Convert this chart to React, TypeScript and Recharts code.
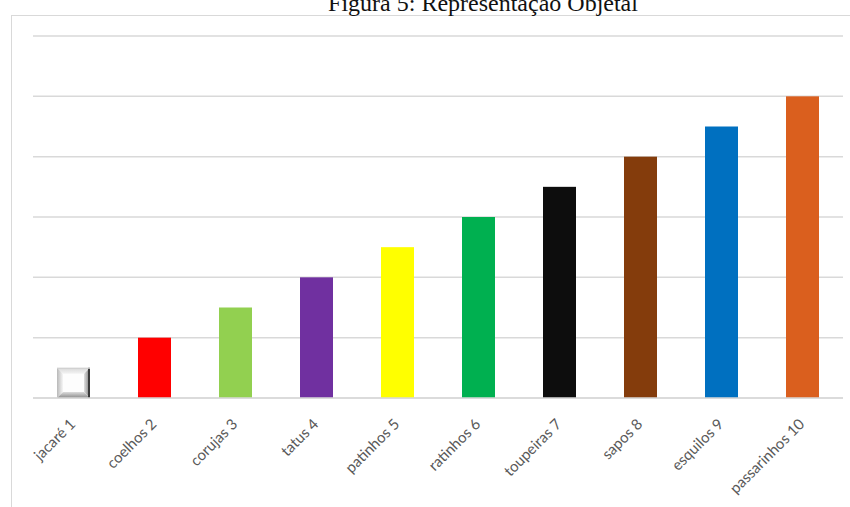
import React from "react";
import { BarChart, Bar, XAxis, YAxis, CartesianGrid, Cell } from "recharts";

const categories = ["jacaré 1", "coelhos 2", "corujas 3", "tatus 4", "patinhos 5", "ratinhos 6", "toupeiras 7", "sapos 8", "esquilos 9", "passarinhos 10"];
const values = [1, 2, 3, 4, 5, 6, 7, 8, 9, 10];
const colors = ["#f4f4f4", "#FF0000", "#92D050", "#7030A0", "#FFFF00", "#00B050", "#0D0D0D", "#843C0C", "#0070C0", "#DA5F1E"];
const yTicks = [0, 2, 4, 6, 8, 10, 12];
const title = "Figura 5: Representação Objetal";

const data = categories.map((name, i) => ({ name, value: values[i] }));

const BarShape = (props: any) => {
  const { x, y, width, height, index, fill } = props;
  if (index === 0) {
    const b = 6;
    const x2 = x + width;
    const y2 = y + height;
    return (
      <g>
        <rect x={x} y={y} width={width} height={height} fill="#fdfdfd" />
        <polygon points={`${x},${y} ${x2},${y} ${x2 - b},${y + b} ${x + b},${y + b}`} fill="url(#bevTop)" />
        <polygon points={`${x},${y} ${x + b},${y + b} ${x + b},${y2 - b} ${x},${y2}`} fill="url(#bevLeft)" />
        <polygon points={`${x2},${y} ${x2},${y2} ${x2 - b},${y2 - b} ${x2 - b},${y + b}`} fill="url(#bevRight)" />
        <polygon points={`${x},${y2} ${x2},${y2} ${x2 - b},${y2 - b} ${x + b},${y2 - b}`} fill="url(#bevBottom)" />
        <rect x={x2 - 2} y={y} width={2} height={height} fill="#3a3a3a" />
        <rect x={x} y={y} width={width} height={1} fill="#cfcfcf" />
      </g>
    );
  }
  return <rect x={x} y={y} width={width} height={height} fill={fill} />;
};

const Tick = (props: any) => {
  const { x, y, payload } = props;
  return (
    <g transform={`translate(${x + 3},${y + 19})`}>
      <text x={0} y={0} transform="rotate(-45)" textAnchor="end" fill="#595959" fontSize={15} fontFamily="Lato, 'Open Sans', sans-serif">
        {payload.value}
      </text>
    </g>
  );
};

export default function App() {
  return (
    <div style={{ position: "absolute", left: 0, top: 0, width: 850, height: 507, overflow: "hidden", background: "#fff" }}>
      <div style={{ position: "absolute", left: 11, top: 15, width: 900, height: 600, border: "1px solid #d9d9d9" }} />
      <div style={{ position: "absolute", left: 0, top: -10, width: 966, textAlign: "center", fontFamily: "'Liberation Serif', serif", fontSize: 24, color: "#111" }}>
        {title}
      </div>
      <div style={{ position: "absolute", left: 0, top: 0 }}>
        <BarChart width={850} height={507} data={data} margin={{ top: 36, right: 7, left: 33, bottom: 0 }} barSize={33}>
          <defs>
            <linearGradient id="bevTop" x1="0" y1="0" x2="0" y2="1">
              <stop offset="0" stopColor="#d8d8d8" />
              <stop offset="1" stopColor="#f4f4f4" />
            </linearGradient>
            <linearGradient id="bevLeft" x1="0" y1="0" x2="1" y2="0">
              <stop offset="0" stopColor="#b8b8b8" />
              <stop offset="1" stopColor="#f6f6f6" />
            </linearGradient>
            <linearGradient id="bevRight" x1="0" y1="0" x2="1" y2="0">
              <stop offset="0" stopColor="#e0e0e0" />
              <stop offset="1" stopColor="#7a7a7a" />
            </linearGradient>
            <linearGradient id="bevBottom" x1="0" y1="0" x2="0" y2="1">
              <stop offset="0" stopColor="#dcdcdc" />
              <stop offset="1" stopColor="#8a8a8a" />
            </linearGradient>
          </defs>
          <CartesianGrid vertical={false} stroke="#d9d9d9" strokeWidth={1.5} />
          <XAxis dataKey="name" height={109} interval={0} tickLine={false} axisLine={{ stroke: "#d9d9d9", strokeWidth: 1.5 }} tick={<Tick />} />
          <YAxis hide domain={[0, 12]} ticks={yTicks} />
          <Bar dataKey="value" isAnimationActive={false} shape={<BarShape />}>
            {data.map((d, i) => (
              <Cell key={d.name} fill={colors[i]} />
            ))}
          </Bar>
        </BarChart>
      </div>
    </div>
  );
}
